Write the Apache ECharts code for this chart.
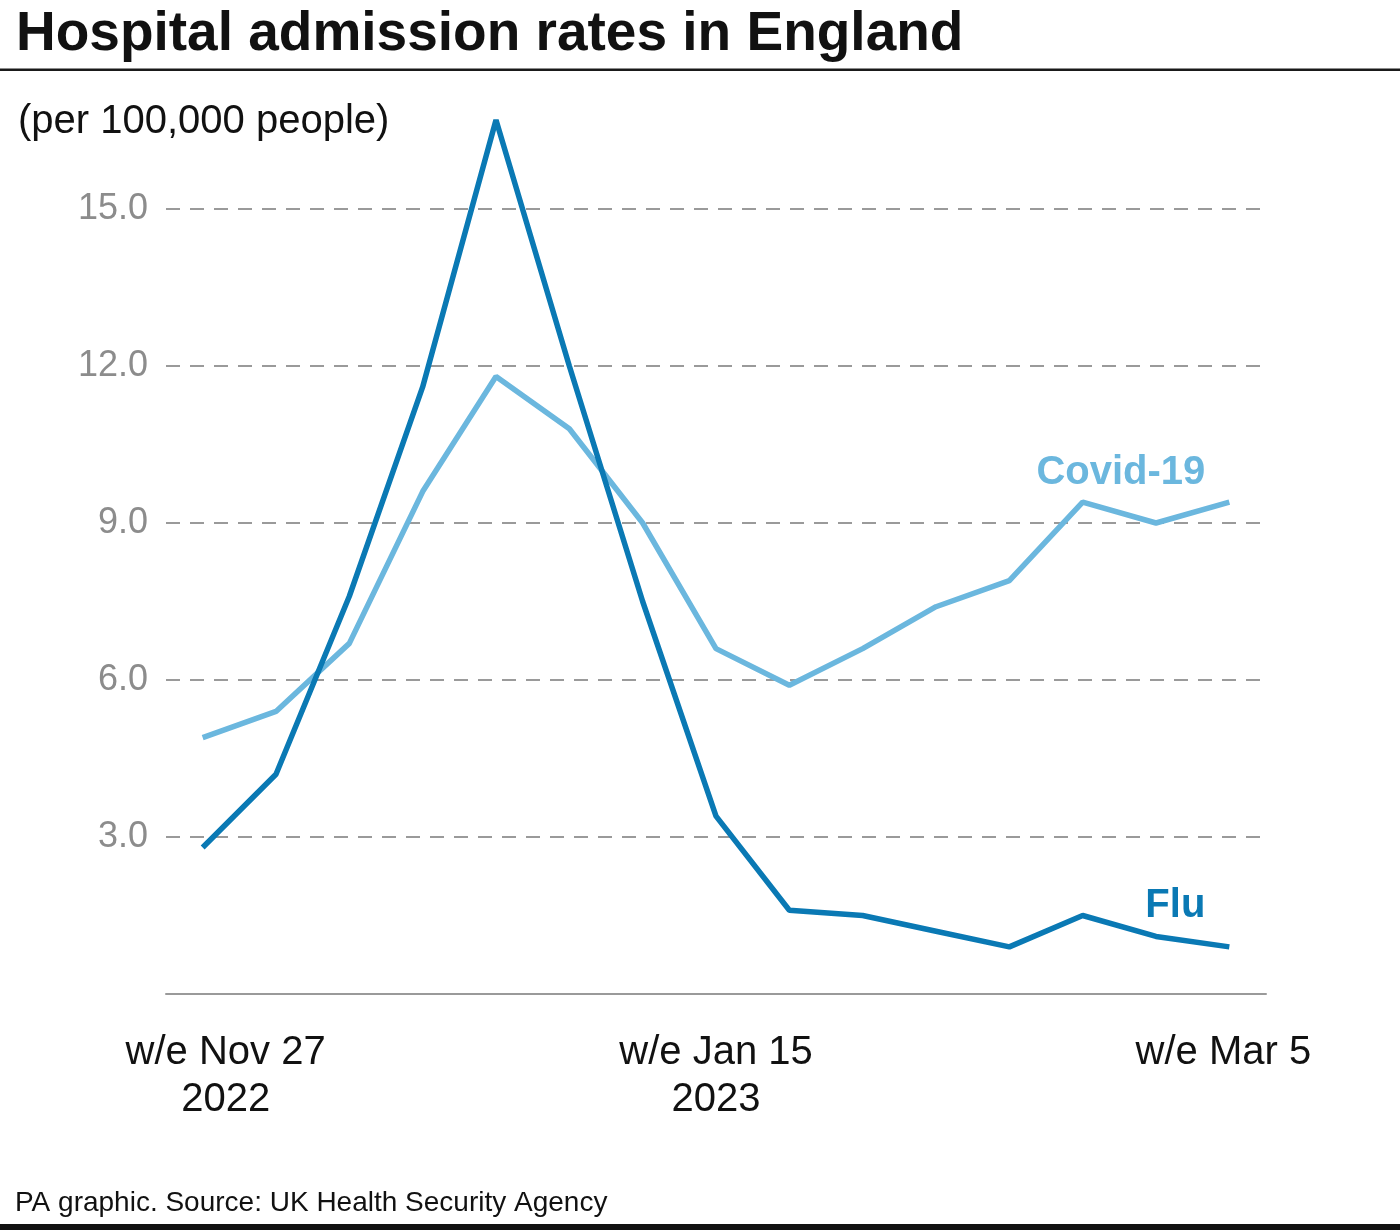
<!DOCTYPE html>
<html>
<head>
<meta charset="utf-8">
<script src="https://cdn.jsdelivr.net/npm/echarts@6/dist/echarts.min.js"></script>
<style>
html,body{margin:0;padding:0;background:#fff;}
#chart{width:1400px;height:1230px;}
</style>
</head>
<body>
<div id="chart"></div>
<script>
// Week-ending dates (Nov 27 2022 .. Mar 5 2023)
const categories = ['Nov 27','Dec 4','Dec 11','Dec 18','Dec 25','Jan 1','Jan 8','Jan 15','Jan 22','Jan 29','Feb 5','Feb 12','Feb 19','Feb 26','Mar 5'];
// Hospital admission rates per 100,000 people
const fluValues   = [2.8, 4.2, 7.6, 11.6, 16.7, 12.0, 7.5, 3.4, 1.6, 1.5, 1.2, 0.9, 1.5, 1.1, 0.9];
const covidValues = [4.9, 5.4, 6.7, 9.6, 11.8, 10.8, 9.0, 6.6, 5.9, 6.6, 7.4, 7.9, 9.4, 9.0, 9.4];
// Tick labels shown on x axis
const tickIndices = [0, 7, 14];
const tickLine1 = ['w/e Nov 27', 'w/e Jan 15', 'w/e Mar 5'];
const tickLine2 = ['2022', '2023', ''];
const yTicks = [3, 6, 9, 12, 15];

const FONT = '"Liberation Sans", Arial, Helvetica, sans-serif';
const FLU = '#0a79b4';
const COVID = '#6bb7de';

const chart = echarts.init(document.getElementById('chart'), null, {renderer: 'canvas'});

const option = {
  animation: false,
  backgroundColor: '#ffffff',
  textStyle: {fontFamily: FONT},
  grid: {left: 166, right: 134, top: 52, bottom: 236, containLabel: false},
  graphic: [
    {type: 'text', left: 16, top: 7, style: {text: 'Hospital admission rates in England', font: 'bold 55px ' + FONT, fill: '#111'}},
    {type: 'rect', shape: {x: 0, y: 68.5, width: 1400, height: 2.5}, style: {fill: '#1a1a1a'}},
    {type: 'text', left: 18, top: 102, style: {text: '(per 100,000 people)', font: '40px ' + FONT, fill: '#111'}},
    {type: 'text', left: 15, top: 1189, style: {text: 'PA graphic. Source: UK Health Security Agency', font: '28px ' + FONT, fill: '#111'}},
    {type: 'rect', shape: {x: 0, y: 1224, width: 1400, height: 6}, style: {fill: '#111'}}
  ],
  xAxis: {
    type: 'category',
    data: categories,
    boundaryGap: true,
    axisLine: {show: true, lineStyle: {color: '#9a9a9a', width: 2}},
    axisTick: {show: false},
    splitLine: {show: false},
    axisLabel: {
      interval: (i) => tickIndices.includes(i),
      margin: 35,
      formatter: (v, i) => {
        const k = tickIndices.indexOf(i);
        if (k < 0) return '';
        const st = k === 0 ? 'a' : (k === 2 ? 'c' : 'b');
        let s = '{' + st + '|' + tickLine1[k] + '}';
        if (tickLine2[k]) s += '\n{' + st + '|' + tickLine2[k] + '}';
        return s;
      },
      rich: {
        a: {fontSize: 40, lineHeight: 47, color: '#111', fontFamily: FONT, padding: [0, 0, 0, 46]},
        b: {fontSize: 40, lineHeight: 47, color: '#111', fontFamily: FONT},
        c: {fontSize: 40, lineHeight: 47, color: '#111', fontFamily: FONT, padding: [0, 12, 0, 0]}
      }
    }
  },
  yAxis: {
    type: 'value',
    min: 0,
    max: 18,
    interval: 3,
    axisLine: {show: false},
    axisTick: {show: false},
    axisLabel: {
      margin: 18,
      fontSize: 36,
      color: '#8c8c8c',
      fontFamily: FONT,
      formatter: (v) => yTicks.includes(v) ? v.toFixed(1) : ''
    },
    splitLine: {
      show: true,
      lineStyle: {
        color: ['rgba(0,0,0,0)', '#9a9a9a', '#9a9a9a', '#9a9a9a', '#9a9a9a', '#9a9a9a', 'rgba(0,0,0,0)'],
        width: 2,
        type: [14, 10]
      }
    }
  },
  series: [
    {
      name: 'Covid-19',
      type: 'line',
      data: covidValues,
      showSymbol: false,
      lineStyle: {color: COVID, width: 5.5},
      itemStyle: {color: COVID},
      endLabel: {
        show: true,
        formatter: '{a}',
        fontSize: 40,
        fontWeight: 'bold',
        color: COVID,
        fontFamily: FONT,
        distance: 0,
        align: 'right',
        verticalAlign: 'bottom',
        offset: [-24, -9]
      }
    },
    {
      name: 'Flu',
      type: 'line',
      data: fluValues,
      showSymbol: false,
      lineStyle: {color: FLU, width: 5.5},
      itemStyle: {color: FLU},
      endLabel: {
        show: true,
        formatter: '{a}',
        fontSize: 40,
        fontWeight: 'bold',
        color: FLU,
        fontFamily: FONT,
        distance: 0,
        align: 'right',
        verticalAlign: 'bottom',
        offset: [-24, -21]
      }
    }
  ]
};
chart.setOption(option);
</script>
</body>
</html>
